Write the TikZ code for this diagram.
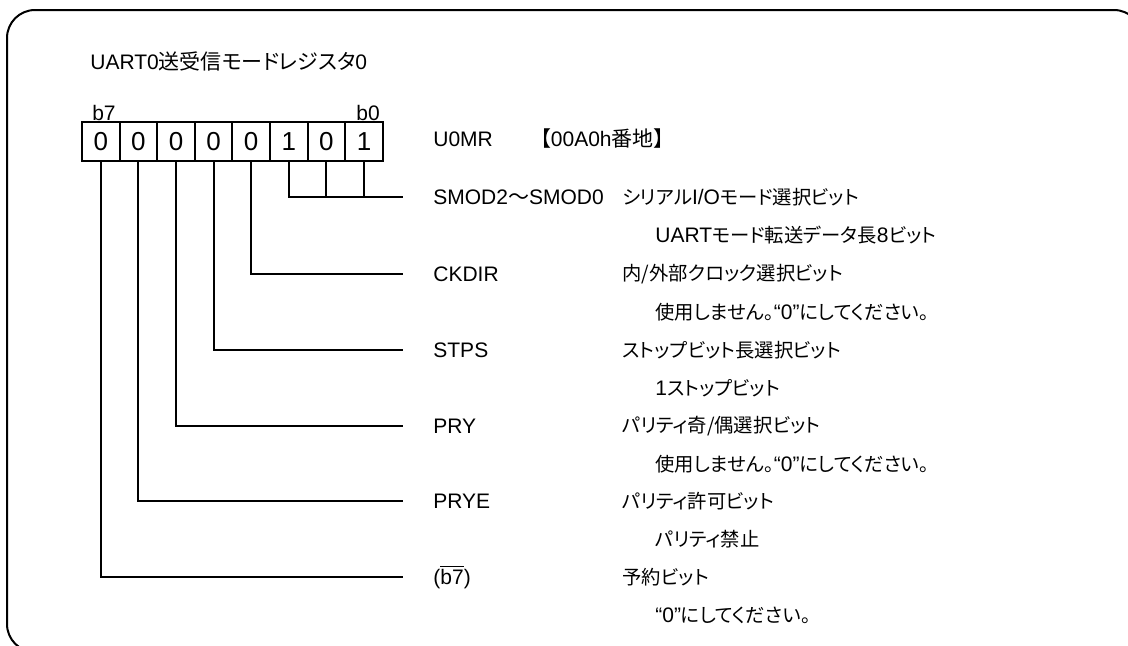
\documentclass[tikz,border=0pt]{standalone}
\usepackage{fontspec}
\setmainfont{Liberation Sans}
\newfontfamily\jpt[RawFeature=+palt]{Noto Sans CJK JP}
\newfontfamily\jp[RawFeature=+palt, Scale=0.92]{Noto Sans CJK JP}
\usepackage{tikz}

\tikzset{
  bitcell/.style={draw, line width=1pt, minimum width=18.8pt, minimum height=19.5pt,
    inner sep=0pt, font=\fontsize{13}{15}\selectfont},
  lbl/.style={anchor=west, inner sep=0pt, font=\fontsize{10.5}{12}\selectfont},
  lien/.style={line width=1pt}
}

\begin{document}
\begin{tikzpicture}[x=0.5pt, y=-0.5pt]
  \useasboundingbox (0,0) rectangle (1128,645);

  % Cadre arrondi
  \begin{scope}
    \clip (0,0) rectangle (1128,645);
    \draw[line width=1pt, rounded corners=14pt] (7,10) rectangle (1142,652);
  \end{scope}

  % Titre et nom du registre
  \node[lbl] (titre) at (90,61) {UART0{\jpt 送受信モードレジスタ}0};
  \node[lbl] (reg) at (433,139) {U0MR};
  \node[lbl] (adr) at (540,139) {{\jpt 【}00A0h{\jpt 番地】}};

  % Les cases du registre
  \foreach \i/\v in {7/0,6/0,5/0,4/0,3/0,2/1,1/0,0/1} {
    \node[bitcell] (b\i) at ({100.8+37.6*(7-\i)}, 141.5) {\v};
  }
  \node[lbl, anchor=center] (lb7) at (104,113) {b7};
  \node[lbl, anchor=center] (lb0) at (368,113) {b0};

  % Extremites des lignes
  \foreach \n/\y in {smod/197, ckdir/274, stps/350, pry/426, prye/501, res/577} {
    \coordinate (e\n) at (403,\y);
  }

  % Les lignes
  \draw[lien] (b2.south) |- (esmod);
  \draw[lien] (b1.south) -- (b1.south |- esmod);
  \draw[lien] (b0.south) -- (b0.south |- esmod);
  \draw[lien] (b3.south) |- (eckdir);
  \draw[lien] (b4.south) |- (estps);
  \draw[lien] (b5.south) |- (epry);
  \draw[lien] (b6.south) |- (eprye);
  \draw[lien] (b7.south) |- (eres);

  % Noms des bits et descriptions
  \foreach \y/\nom/\desc/\det [count=\k] in {
    197/{SMOD2{\jpt 〜}SMOD0}/{{\jp シリアル}I/O{\jp モード選択ビット}}/{UART{\jp モード転送データ長}8{\jp ビット}},
    274/{CKDIR}/{{\jp 内/外部クロック選択ビット}}/{{\jp 使用しません。}“0”{\jp にしてください。}},
    350/{STPS}/{{\jp ストップビット長選択ビット}}/{1{\jp ストップビット}},
    426/{PRY}/{{\jp パリティ奇/偶選択ビット}}/{{\jp 使用しません。}“0”{\jp にしてください。}},
    501/{PRYE}/{{\jp パリティ許可ビット}}/{{\jp パリティ禁止}},
    577/{(\ensuremath{\overline{\hbox{b7}}})}/{{\jp 予約ビット}}/{“0”{\jp にしてください。}}} {
    \node[lbl] (nom\k) at (433,\y) {\nom};
    \node[lbl] (desc\k) at (622,\y) {\desc};
    \node[lbl] (det\k) at (655,\y+38) {\det};
  }
\end{tikzpicture}
\end{document}
